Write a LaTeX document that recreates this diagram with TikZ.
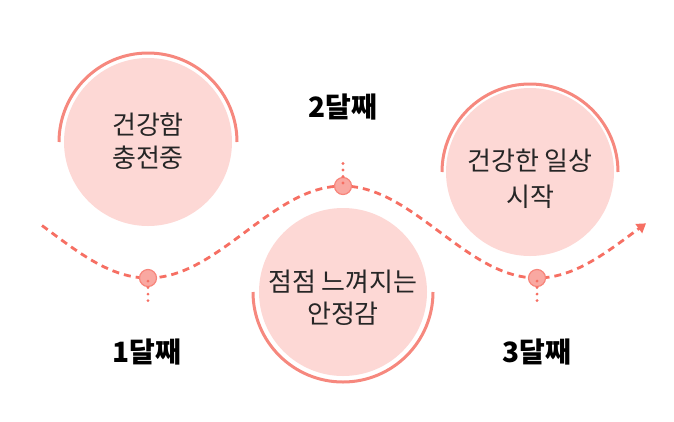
\documentclass[tikz,border=0pt]{standalone}
\usepackage{fontspec}
\newfontfamily\kr{Noto Sans CJK KR}
\usetikzlibrary{arrows.meta}
\definecolor{pinkfill}{HTML}{FDD8D5}
\definecolor{arccol}{HTML}{F6887E}
\definecolor{dashcol}{HTML}{F66F63}
\definecolor{dotfill}{HTML}{F9A8A1}
\definecolor{dotedge}{HTML}{F7857B}
\tikzset{
  bubble/.style={circle, fill=pinkfill, minimum size=168pt, inner sep=0pt},
  ring/.style={draw=arccol, line width=3pt},
  wave/.style={draw=dashcol, line width=2.8pt, dash pattern=on 7pt off 5pt},
  stepdot/.style={circle, fill=dotfill, draw=dotedge, line width=1.2pt, minimum size=17pt, inner sep=0pt},
  dotline/.style={draw=dashcol, line width=3.2pt, line cap=round, dash pattern=on 0pt off 6.5pt},
  intext/.style={font=\kr\fontsize{26}{26}\selectfont, text=black!85, inner sep=0pt},
  month/.style={font=\kr\bfseries\fontsize{28}{28}\selectfont, text=black, inner sep=0pt},
}
\begin{document}
\begin{tikzpicture}[x=1pt,y=-1pt]
\useasboundingbox (0,0) rectangle (674,421);
% bubbles
\node[bubble] (c1) at (148,142) {};
\node[bubble] (c2) at (343,292) {};
\node[bubble] (c3) at (530,172) {};
% rings
\draw[ring] (c1.center) ++(-89,0) arc[start angle=180, end angle=360, radius=89];
\draw[ring] (c2.center) ++(-90,0) arc[start angle=180, end angle=0, radius=90];
\draw[ring] (c3.center) ++(-88,0) arc[start angle=180, end angle=360, radius=88];
% texts in bubbles
\node[intext] (t1a) at (148,125) {건강함};
\node[intext] (t1b) at (148,158) {충전중};
\node[intext] (t2a) at (343,282) {점점 느껴지는};
\node[intext] (t2b) at (343,314) {안정감};
\node[intext] (t3a) at (530,161) {건강한 일상};
\node[intext] (t3b) at (530,197) {시작};
% wave
\draw[wave, -{Triangle[length=9pt,width=11pt]}] plot[domain=42:646, samples=120] (\x, {232+46*cos((\x-148)/389*360)});
% dots and ticks
\coordinate (e1) at (148,305);
\coordinate (e2) at (343,158);
\coordinate (e3) at (537,305);
\node[stepdot] (d1) at (148,278) {};
\node[stepdot] (d2) at (343,186) {};
\node[stepdot] (d3) at (537,278) {};
\draw[dotline] ([yshift=6pt]d1.south) -- (e1);
\draw[dotline] ([yshift=-6pt]d2.north) -- (e2);
\draw[dotline] ([yshift=6pt]d3.south) -- (e3);
% month labels
\node[month] (m1) at (147,352) {1달째};
\node[month] (m2) at (343,107) {2달째};
\node[month] (m3) at (537,352) {3달째};
\end{tikzpicture}
\end{document}
